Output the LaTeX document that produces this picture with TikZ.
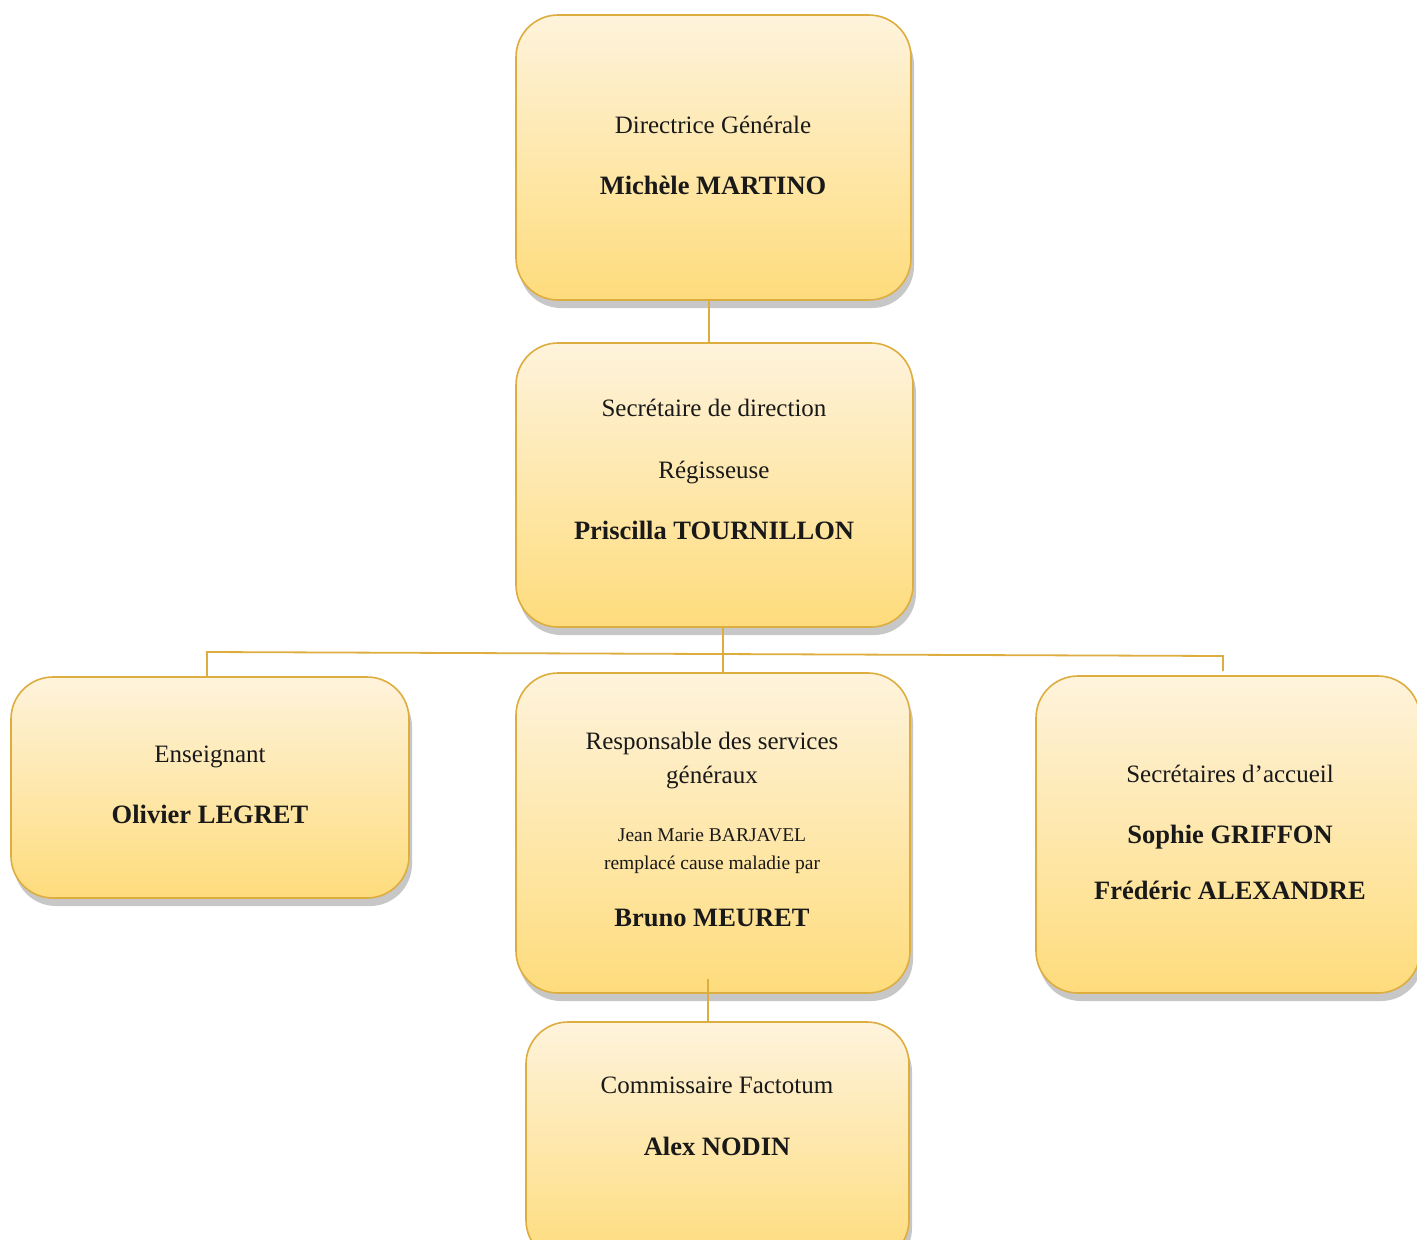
\documentclass[tikz,border=0pt]{standalone}
\usepackage{fontspec}
\setmainfont{Liberation Serif}
\usetikzlibrary{shadows,calc}
\definecolor{boxtop}{HTML}{FEF3DC}
\definecolor{boxbot}{HTML}{FEDC7C}
\definecolor{boxline}{HTML}{DDAD3F}
\tikzset{
  orgbox/.style={draw=boxline, line width=1.6pt, rounded corners=42pt,
    top color=boxtop, bottom color=boxbot,
    drop shadow={shadow xshift=3pt, shadow yshift=-8pt, opacity=0.4, fill=black!55},
    inner sep=0pt},
  conn/.style={draw=boxline, line width=1.8pt},
  lbl/.style={inner sep=0pt, text height=0.7em, text depth=0.2em, text=black!90,
    yshift=-6pt, font=\fontsize{25}{29}\selectfont},
  bold/.style={lbl, font=\fontsize{26.5}{31}\selectfont\bfseries},
  small/.style={lbl, font=\fontsize{19.5}{23}\selectfont},
}
\begin{document}
\begin{tikzpicture}[x=1pt, y=-1pt]
\useasboundingbox (0,0) rectangle (1417,1240);
% boxes
\node[orgbox, minimum width=395pt, minimum height=285pt] (top) at (713.5,157.5) {};
\node[orgbox, minimum width=397pt, minimum height=284pt] (sec) at (714.5,485) {};
\node[orgbox, minimum width=398pt, minimum height=221pt] (left) at (210,787.5) {};
\node[orgbox, minimum width=394pt, minimum height=320pt] (mid) at (713,833) {};
\node[orgbox, minimum width=384pt, minimum height=317pt] (right) at (1228,834.5) {};
\node[orgbox, minimum width=383pt, minimum height=240pt] (bot) at (717.5,1142) {};
% connectors
\draw[conn] ([xshift=-4.5pt]top.south) -- ([xshift=-4.5pt]top.south |- sec.north);
\coordinate (jl) at (207,652);
\coordinate (jr) at (1223,656);
\draw[conn] (left.north -| jl) -- (jl) -- (jr) -- ([yshift=4pt]right.north -| jr);
\draw[conn] ([xshift=8.5pt]sec.south) -- ([xshift=8.5pt]sec.south |- mid.north);
\draw[conn] ([xshift=-9.5pt,yshift=15pt]bot.north |- mid.south) -- ([xshift=-9.5pt]bot.north);
% texts
\node[lbl]  (t1) at (713,125) {Directrice Générale};
\node[bold] (t2) at (713,186) {Michèle MARTINO};
\node[lbl]  (s1) at (714,408) {Secrétaire de direction};
\node[lbl]  (s2) at (714,470) {Régisseuse};
\node[bold] (s3) at (714,531) {Priscilla TOURNILLON};
\node[lbl]  (l1) at (210,754) {Enseignant};
\node[bold] (l2) at (210,815) {Olivier LEGRET};
\node[lbl]  (m1) at (712,741) {Responsable des services};
\node[lbl]  (m2) at (712,775) {généraux};
\node[small] (m3) at (712,833) {Jean Marie BARJAVEL};
\node[small] (m4) at (712,861) {remplacé cause maladie par};
\node[bold] (m5) at (712,918) {Bruno MEURET};
\node[lbl]  (r1) at (1230,774) {Secrétaires d’accueil};
\node[bold] (r2) at (1230,835) {Sophie GRIFFON};
\node[bold] (r3) at (1230,891) {Frédéric ALEXANDRE};
\node[lbl]  (b1) at (717,1085) {Commissaire Factotum};
\node[bold] (b2) at (717,1147) {Alex NODIN};
\end{tikzpicture}
\end{document}
